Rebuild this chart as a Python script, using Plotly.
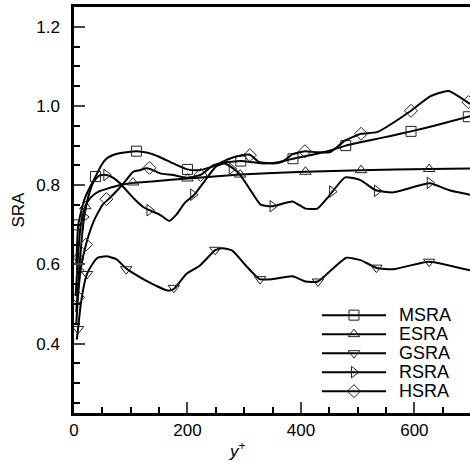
import plotly.graph_objects as go

# ---- data ----
msra_x = [4, 7.5, 12, 19, 28, 38, 48, 58, 70, 85, 110, 130, 150, 175, 200, 220, 240, 262, 294, 315, 335, 363, 386, 420, 450, 479, 520, 560, 594, 640, 698]
msra_y = [0.60, 0.70, 0.73, 0.767, 0.795, 0.822, 0.85, 0.868, 0.877, 0.882, 0.886, 0.882, 0.872, 0.855, 0.84, 0.838, 0.845, 0.857, 0.861, 0.858, 0.855, 0.859, 0.867, 0.877, 0.887, 0.90, 0.913, 0.925, 0.936, 0.952, 0.974]
msra_mx = [7.5, 38, 110, 200, 294, 386, 479, 594, 695]
msra_my = [0.70, 0.822, 0.886, 0.84, 0.861, 0.867, 0.90, 0.936, 0.973]

esra_x = [3, 7, 12, 20, 30, 45, 60, 80, 104, 142, 200, 293, 408, 506, 626, 698]
esra_y = [0.52, 0.62, 0.70, 0.747, 0.77, 0.785, 0.792, 0.80, 0.806, 0.81, 0.817, 0.827, 0.834, 0.838, 0.841, 0.842]
esra_mx = [7, 20, 104, 200, 293, 408, 506, 626]
esra_my = [0.62, 0.747, 0.807, 0.817, 0.827, 0.834, 0.838, 0.841]

gsra_x = [5, 7, 12, 18, 23, 32, 42, 57, 75, 92, 108, 122, 145, 165, 176, 198, 221, 249, 262, 279, 303, 327, 350, 385, 408, 430, 455, 480, 505, 534, 563, 626, 698]
gsra_y = [0.41, 0.437, 0.50, 0.55, 0.576, 0.60, 0.617, 0.621, 0.613, 0.590, 0.575, 0.563, 0.546, 0.534, 0.538, 0.576, 0.596, 0.636, 0.641, 0.635, 0.597, 0.563, 0.563, 0.57, 0.557, 0.557, 0.588, 0.617, 0.611, 0.591, 0.588, 0.607, 0.585]
gsra_mx = [7, 23, 92, 176, 249, 328, 430, 533, 626]
gsra_my = [0.437, 0.576, 0.588, 0.541, 0.637, 0.563, 0.557, 0.592, 0.607]

rsra_x = [4, 9, 14, 18, 25, 35, 45, 57, 70, 81, 105, 122, 133, 151, 168, 180, 195, 212, 230, 250, 265, 278, 291, 310, 329, 350, 385, 408, 429, 449, 478, 505, 531, 563, 627, 660, 698]
rsra_y = [0.48, 0.585, 0.67, 0.72, 0.77, 0.81, 0.825, 0.826, 0.818, 0.805, 0.767, 0.745, 0.737, 0.726, 0.71, 0.725, 0.755, 0.776, 0.81, 0.847, 0.855, 0.845, 0.83, 0.79, 0.751, 0.747, 0.759, 0.741, 0.741, 0.772, 0.82, 0.813, 0.788, 0.782, 0.805, 0.788, 0.776]
rsra_mx = [9, 18, 57, 133, 210, 278, 350, 455, 534, 627]
rsra_my = [0.585, 0.72, 0.826, 0.737, 0.776, 0.842, 0.747, 0.784, 0.786, 0.806]

hsra_x = [4, 7, 12, 21, 35, 50, 63, 78, 92, 104, 116, 127, 136, 152, 175, 198, 223, 245, 256, 274, 290, 310, 326, 350, 367, 385, 407, 429, 452, 478, 506, 534, 594, 627, 660, 698]
hsra_y = [0.45, 0.517, 0.59, 0.65, 0.71, 0.75, 0.768, 0.79, 0.813, 0.834, 0.838, 0.843, 0.84, 0.83, 0.826, 0.819, 0.826, 0.85, 0.855, 0.867, 0.874, 0.877, 0.859, 0.855, 0.859, 0.878, 0.886, 0.883, 0.884, 0.913, 0.93, 0.934, 0.988, 1.024, 1.038, 1.005]
hsra_mx = [7, 21, 57, 133, 223, 310, 407, 506, 594, 695]
hsra_my = [0.517, 0.65, 0.765, 0.844, 0.826, 0.876, 0.886, 0.93, 0.988, 1.01]

names = ["MSRA", "ESRA", "GSRA", "RSRA", "HSRA"]
symbols = ["square-open", "triangle-up-open", "triangle-down-open", "triangle-right-open", "diamond-open"]
series = [
    (msra_x, msra_y, msra_mx, msra_my),
    (esra_x, esra_y, esra_mx, esra_my),
    (gsra_x, gsra_y, gsra_mx, gsra_my),
    (rsra_x, rsra_y, rsra_mx, rsra_my),
    (hsra_x, hsra_y, hsra_mx, hsra_my),
]

x_ticks = [0, 200, 400, 600]
y_ticks = [0.4, 0.6, 0.8, 1.0, 1.2]

FONT = "Liberation Sans, Arial, sans-serif"
MCOL = "#222"
fig = go.Figure()
for (lx, ly, mx, my), name, sym in zip(series, names, symbols):
    fig.add_trace(go.Scatter(x=lx, y=ly, mode="lines", showlegend=False, name=name,
                             line=dict(color="black", width=2, shape="spline", smoothing=0.5)))
    fig.add_trace(go.Scatter(x=mx, y=my, mode="markers", showlegend=False, name=name,
                             marker=dict(symbol=sym, size=10, color=MCOL,
                                         line=dict(width=1, color=MCOL))))

# legend drawn in an overlay frame (paper-like 0..1 axes)
leg_x0, leg_x1, leg_text_x = 0.626, 0.788, 0.816
leg_top, leg_step = 0.241, 0.0468
annotations = []
for i, (name, sym) in enumerate(zip(names, symbols)):
    yy = leg_top - i * leg_step
    fig.add_trace(go.Scatter(x=[leg_x0, leg_x1], y=[yy, yy], xaxis="x2", yaxis="y2",
                             mode="lines", showlegend=False, hoverinfo="skip",
                             line=dict(color="black", width=2)))
    fig.add_trace(go.Scatter(x=[(leg_x0 + leg_x1) / 2], y=[yy], xaxis="x2", yaxis="y2",
                             mode="markers", showlegend=False, hoverinfo="skip",
                             marker=dict(symbol=sym, size=10, color=MCOL,
                                         line=dict(width=1, color=MCOL))))
    annotations.append(dict(text=name, xref="paper", yref="paper", x=leg_text_x, y=yy,
                            xanchor="left", yanchor="middle", showarrow=False,
                            font=dict(size=18)))

annotations.append(dict(text="<i>y</i><sup>+</sup>", xref="paper", yref="paper",
                        x=0.414, y=-0.09, xanchor="center", yanchor="middle",
                        showarrow=False, font=dict(size=17)))

fig.update_layout(
    width=470, height=462,
    margin=dict(l=74, r=0, t=7, b=49),
    plot_bgcolor="white", paper_bgcolor="white",
    font=dict(family=FONT, size=17, color="black"),
    showlegend=False,
    xaxis=dict(range=[0, 698], tickvals=x_ticks, ticks="inside", ticklen=11, tickwidth=2,
               showline=True, linewidth=2.5, linecolor="black", mirror=True,
               showgrid=False, zeroline=False,
               minor=dict(dtick=50, ticks="inside", ticklen=6, tickwidth=1.5, tickcolor="black"),
               tickfont=dict(size=17)),
    yaxis=dict(range=[0.225, 1.25], tickvals=y_ticks, tickformat=".1f", ticks="inside",
               ticklen=11, tickwidth=2,
               showline=True, linewidth=2.5, linecolor="black",
               showgrid=False, zeroline=False,
               minor=dict(dtick=0.05, tick0=0, ticks="inside", ticklen=6, tickwidth=1.5, tickcolor="black"),
               tickfont=dict(size=17), ticklabelstandoff=8,
               title=dict(text="SRA", standoff=8, font=dict(size=17))),
    xaxis2=dict(overlaying="x", range=[0, 1], visible=False, fixedrange=True),
    yaxis2=dict(overlaying="y", range=[0, 1], visible=False, fixedrange=True),
    annotations=annotations,
)

fig.write_html("out.html")
